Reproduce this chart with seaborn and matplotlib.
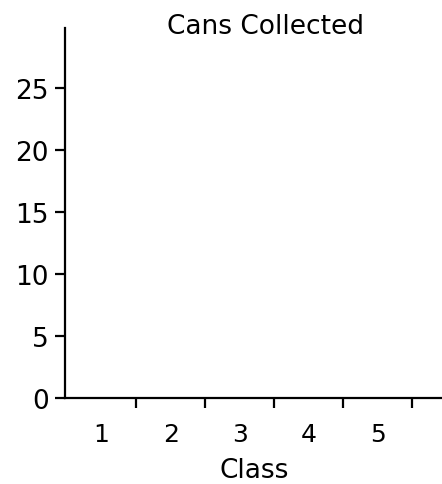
import numpy as np
import pandas as pd
import matplotlib
matplotlib.use('Agg')
import matplotlib.pyplot as plt
import seaborn as sns

# Data: no bars visible, every class sits at zero
classes = ['1', '2', '3', '4', '5']
cans = [0, 0, 0, 0, 0]
y_ticks = [0, 5, 10, 15, 20, 25]

df = pd.DataFrame({'Class': classes, 'Cans': cans})

sns.set_style('ticks')
plt.rcParams['font.family'] = ['DejaVu Sans']
plt.rcParams['text.color'] = 'black'
plt.rcParams['axes.labelcolor'] = 'black'

fig = plt.figure(figsize=(4.42, 4.85), dpi=100)
ax = fig.add_axes([65 / 442, 1 - 399 / 485, 1 - 65 / 442, 370 / 485])

sns.barplot(x='Class', y='Cans', data=df, color='black', ax=ax)

ax.set_xlim(-0.53, 4.93)
ax.set_ylim(0, 29.8)
ax.set_yticks(y_ticks)
ax.set_xticks(np.arange(len(classes)))
ax.set_xticklabels(classes)
ax.set_xticks(np.arange(len(classes)) + 0.5, minor=True)

for side in ['top', 'right']:
    ax.spines[side].set_visible(False)
for side in ['left', 'bottom']:
    ax.spines[side].set_linewidth(1.6)
    ax.spines[side].set_color('black')

ax.tick_params(axis='x', which='major', length=0, pad=17, labelsize=18, colors='black')
ax.tick_params(axis='x', which='minor', length=7.5, width=1.6, direction='out', color='black')
ax.tick_params(axis='y', length=7.5, width=1.6, pad=4, labelsize=19, colors='black')

ax.set_title('Cans Collected', fontsize=19, x=0.533, y=0.986, pad=0, color='black')
ax.set_xlabel('Class', fontsize=19, color='black')
ax.xaxis.set_label_coords(0.501, -0.16)
ax.set_ylabel('')

plt.savefig('out.png', dpi=100)
